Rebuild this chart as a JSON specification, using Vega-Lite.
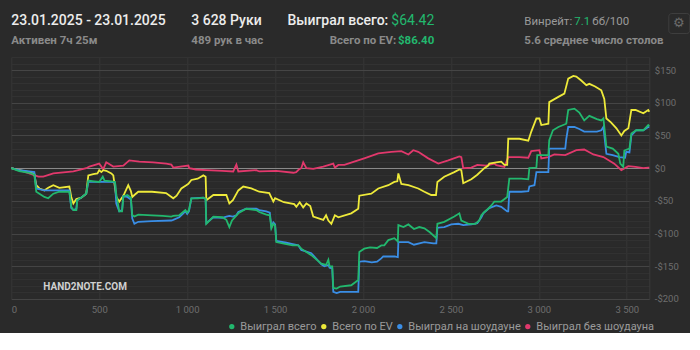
{
  "$schema": "https://vega.github.io/schema/vega-lite/v6.json",
  "background": "#2a2a2a",
  "padding": {"left": 7.3, "top": 12, "right": 0, "bottom": 0},
  "spacing": 0,
  "config": {
    "view": {"stroke": null},
    "font": "Roboto",
    "title": {"anchor": "start", "font": "Roboto", "baseline": "top", "frame": "group", "orient": "bottom", "subtitleFontSize": 1, "subtitlePadding": 0},
    "concat": {"spacing": 0}
  },
  "datasets": {
    "won": [
      {"h":0,"v":0},{"h":45,"v":-4.5},{"h":102,"v":-7},{"h":131,"v":-10},{"h":142,"v":-36},{"h":160,"v":-39},{"h":188,"v":-44},{"h":210,"v":-46},{"h":239,"v":-39},{"h":273,"v":-36},{"h":330,"v":-36},{"h":341,"v":-59},{"h":353,"v":-64},{"h":370,"v":-64},{"h":375,"v":-49},{"h":398,"v":-45},{"h":426,"v":-39},{"h":438,"v":-19},{"h":470,"v":-20},{"h":500,"v":-21},{"h":520,"v":-13},{"h":530,"v":-19},{"h":569,"v":-20},{"h":590,"v":-21},{"h":597,"v":-40},{"h":614,"v":-66},{"h":630,"v":-66},{"h":637,"v":-43},{"h":660,"v":-41},{"h":680,"v":-45},{"h":688,"v":-72},{"h":700,"v":-74},{"h":722,"v":-71},{"h":800,"v":-72},{"h":860,"v":-73},{"h":910,"v":-74},{"h":921,"v":-73},{"h":955,"v":-72},{"h":990,"v":-64},{"h":1000,"v":-68},{"h":1010,"v":-64},{"h":1024,"v":-46},{"h":1060,"v":-46},{"h":1092,"v":-45},{"h":1105,"v":-47},{"h":1109,"v":-85},{"h":1149,"v":-74},{"h":1200,"v":-75},{"h":1223,"v":-79},{"h":1240,"v":-90},{"h":1255,"v":-80},{"h":1291,"v":-69},{"h":1336,"v":-62},{"h":1393,"v":-64},{"h":1410,"v":-67},{"h":1450,"v":-71},{"h":1470,"v":-72},{"h":1479,"v":-92},{"h":1490,"v":-85},{"h":1500,"v":-88},{"h":1507,"v":-113},{"h":1564,"v":-116},{"h":1600,"v":-118},{"h":1632,"v":-118},{"h":1649,"v":-123},{"h":1706,"v":-133},{"h":1763,"v":-146},{"h":1790,"v":-148},{"h":1803,"v":-140},{"h":1810,"v":-150},{"h":1825,"v":-150},{"h":1831,"v":-183},{"h":1850,"v":-184},{"h":1870,"v":-181},{"h":1933,"v":-179},{"h":1973,"v":-171},{"h":1979,"v":-128},{"h":2007,"v":-123},{"h":2040,"v":-121},{"h":2080,"v":-122},{"h":2104,"v":-118},{"h":2121,"v":-118},{"h":2144,"v":-110},{"h":2178,"v":-107},{"h":2198,"v":-112},{"h":2201,"v":-87},{"h":2230,"v":-90},{"h":2258,"v":-86},{"h":2290,"v":-93},{"h":2320,"v":-90},{"h":2349,"v":-92},{"h":2380,"v":-98},{"h":2417,"v":-107},{"h":2423,"v":-85},{"h":2462,"v":-82},{"h":2519,"v":-74},{"h":2548,"v":-69},{"h":2559,"v":-80},{"h":2600,"v":-85},{"h":2640,"v":-85},{"h":2661,"v":-80},{"h":2673,"v":-72},{"h":2690,"v":-67},{"h":2712,"v":-62},{"h":2730,"v":-57},{"h":2747,"v":-51},{"h":2786,"v":-51},{"h":2820,"v":-44},{"h":2832,"v":-16},{"h":2900,"v":-16},{"h":2940,"v":-17},{"h":2946,"v":0},{"h":2986,"v":1},{"h":2991,"v":20},{"h":3054,"v":20},{"h":3059,"v":43},{"h":3080,"v":58},{"h":3111,"v":63},{"h":3156,"v":68},{"h":3167,"v":89},{"h":3202,"v":91},{"h":3230,"v":85},{"h":3258,"v":73},{"h":3287,"v":80},{"h":3330,"v":75},{"h":3355,"v":73},{"h":3367,"v":76},{"h":3384,"v":33},{"h":3420,"v":30},{"h":3452,"v":22},{"h":3463,"v":7},{"h":3480,"v":2},{"h":3486,"v":27},{"h":3515,"v":30},{"h":3526,"v":53},{"h":3554,"v":58},{"h":3594,"v":58},{"h":3622,"v":66},{"h":3628,"v":64.4}
    ],
    "ev": [
      {"h":0,"v":0},{"h":45,"v":-3},{"h":102,"v":-6},{"h":131,"v":-9},{"h":142,"v":-26},{"h":160,"v":-31},{"h":188,"v":-34},{"h":210,"v":-30},{"h":239,"v":-26},{"h":273,"v":-30},{"h":330,"v":-28},{"h":341,"v":-44},{"h":353,"v":-54},{"h":370,"v":-47},{"h":398,"v":-45},{"h":426,"v":-39},{"h":438,"v":-11},{"h":466,"v":-9},{"h":490,"v":-8},{"h":500,"v":-3},{"h":512,"v":-6},{"h":523,"v":-3},{"h":540,"v":-4},{"h":569,"v":-8},{"h":580,"v":-11},{"h":597,"v":-44},{"h":614,"v":-51},{"h":630,"v":-45},{"h":643,"v":-39},{"h":665,"v":-26},{"h":680,"v":-35},{"h":688,"v":-44},{"h":700,"v":-41},{"h":722,"v":-36},{"h":800,"v":-36},{"h":880,"v":-38},{"h":921,"v":-46},{"h":940,"v":-42},{"h":967,"v":-31},{"h":995,"v":-26},{"h":1007,"v":-24},{"h":1024,"v":-18},{"h":1060,"v":-16},{"h":1092,"v":-11},{"h":1105,"v":-13},{"h":1109,"v":-49},{"h":1149,"v":-41},{"h":1223,"v":-41},{"h":1240,"v":-54},{"h":1260,"v":-49},{"h":1291,"v":-34},{"h":1319,"v":-28},{"h":1365,"v":-31},{"h":1410,"v":-36},{"h":1467,"v":-38},{"h":1490,"v":-51},{"h":1500,"v":-46},{"h":1550,"v":-52},{"h":1609,"v":-55},{"h":1621,"v":-59},{"h":1640,"v":-52},{"h":1660,"v":-60},{"h":1678,"v":-54},{"h":1700,"v":-58},{"h":1717,"v":-74},{"h":1774,"v":-79},{"h":1790,"v":-72},{"h":1803,"v":-80},{"h":1820,"v":-85},{"h":1840,"v":-72},{"h":1860,"v":-75},{"h":1933,"v":-69},{"h":1973,"v":-62},{"h":1979,"v":-42},{"h":2047,"v":-39},{"h":2087,"v":-31},{"h":2144,"v":-26},{"h":2178,"v":-21},{"h":2195,"v":-20},{"h":2201,"v":-8},{"h":2218,"v":-24},{"h":2258,"v":-26},{"h":2314,"v":-31},{"h":2349,"v":-36},{"h":2388,"v":-41},{"h":2415,"v":-41},{"h":2423,"v":-21},{"h":2462,"v":-13},{"h":2519,"v":-6},{"h":2548,"v":-2},{"h":2559,"v":-3},{"h":2570,"v":-23},{"h":2616,"v":-17},{"h":2650,"v":-10},{"h":2690,"v":0},{"h":2712,"v":4},{"h":2718,"v":7},{"h":2758,"v":9},{"h":2786,"v":10},{"h":2804,"v":5},{"h":2820,"v":5},{"h":2826,"v":45},{"h":2889,"v":45},{"h":2940,"v":42},{"h":2957,"v":56},{"h":2986,"v":76},{"h":3003,"v":76},{"h":3014,"v":66},{"h":3054,"v":68},{"h":3059,"v":101},{"h":3111,"v":109},{"h":3145,"v":114},{"h":3167,"v":137},{"h":3196,"v":141},{"h":3213,"v":140},{"h":3241,"v":134},{"h":3270,"v":127},{"h":3287,"v":129},{"h":3320,"v":125},{"h":3355,"v":119},{"h":3372,"v":106},{"h":3384,"v":76},{"h":3410,"v":70},{"h":3441,"v":61},{"h":3469,"v":50},{"h":3486,"v":57},{"h":3509,"v":61},{"h":3526,"v":89},{"h":3550,"v":89},{"h":3594,"v":84},{"h":3622,"v":89},{"h":3628,"v":86.4}
    ],
    "sd": [
      {"h":0,"v":0},{"h":45,"v":-3},{"h":102,"v":-5},{"h":131,"v":-6},{"h":142,"v":-31},{"h":188,"v":-34},{"h":273,"v":-34},{"h":330,"v":-34},{"h":341,"v":-61},{"h":353,"v":-64},{"h":370,"v":-62},{"h":375,"v":-49},{"h":398,"v":-45},{"h":426,"v":-39},{"h":438,"v":-21},{"h":500,"v":-21},{"h":569,"v":-21},{"h":590,"v":-22},{"h":597,"v":-54},{"h":614,"v":-66},{"h":630,"v":-64},{"h":637,"v":-43},{"h":660,"v":-44},{"h":680,"v":-48},{"h":688,"v":-77},{"h":700,"v":-85},{"h":722,"v":-82},{"h":800,"v":-81},{"h":910,"v":-80},{"h":921,"v":-79},{"h":955,"v":-75},{"h":990,"v":-66},{"h":1000,"v":-70},{"h":1010,"v":-66},{"h":1024,"v":-46},{"h":1092,"v":-45},{"h":1105,"v":-47},{"h":1109,"v":-84},{"h":1149,"v":-75},{"h":1200,"v":-76},{"h":1223,"v":-74},{"h":1240,"v":-73},{"h":1260,"v":-74},{"h":1280,"v":-72},{"h":1291,"v":-67},{"h":1336,"v":-62},{"h":1393,"v":-62},{"h":1410,"v":-64},{"h":1450,"v":-66},{"h":1470,"v":-68},{"h":1479,"v":-90},{"h":1490,"v":-83},{"h":1500,"v":-86},{"h":1507,"v":-111},{"h":1564,"v":-114},{"h":1600,"v":-116},{"h":1632,"v":-118},{"h":1649,"v":-125},{"h":1706,"v":-130},{"h":1740,"v":-140},{"h":1763,"v":-147},{"h":1780,"v":-150},{"h":1803,"v":-148},{"h":1810,"v":-152},{"h":1825,"v":-153},{"h":1831,"v":-189},{"h":1850,"v":-191},{"h":1870,"v":-189},{"h":1933,"v":-189},{"h":1973,"v":-189},{"h":1979,"v":-143},{"h":2007,"v":-142},{"h":2050,"v":-144},{"h":2080,"v":-143},{"h":2104,"v":-138},{"h":2115,"v":-135},{"h":2180,"v":-135},{"h":2198,"v":-136},{"h":2201,"v":-113},{"h":2258,"v":-113},{"h":2290,"v":-117},{"h":2349,"v":-113},{"h":2400,"v":-115},{"h":2417,"v":-115},{"h":2423,"v":-91},{"h":2462,"v":-90},{"h":2502,"v":-86},{"h":2542,"v":-85},{"h":2570,"v":-87},{"h":2616,"v":-86},{"h":2650,"v":-84},{"h":2673,"v":-75},{"h":2684,"v":-69},{"h":2718,"v":-61},{"h":2758,"v":-57},{"h":2786,"v":-59},{"h":2820,"v":-66},{"h":2826,"v":-66},{"h":2832,"v":-36},{"h":2900,"v":-36},{"h":2940,"v":-35},{"h":2946,"v":-28},{"h":2975,"v":-26},{"h":2986,"v":-6},{"h":3054,"v":-6},{"h":3059,"v":30},{"h":3150,"v":30},{"h":3156,"v":45},{"h":3167,"v":63},{"h":3202,"v":63},{"h":3230,"v":60},{"h":3258,"v":56},{"h":3330,"v":56},{"h":3355,"v":58},{"h":3367,"v":63},{"h":3384,"v":22},{"h":3420,"v":20},{"h":3458,"v":17},{"h":3490,"v":16},{"h":3497,"v":25},{"h":3515,"v":24},{"h":3526,"v":50},{"h":3554,"v":58},{"h":3594,"v":58},{"h":3622,"v":63},{"h":3628,"v":63}
    ],
    "nsd": [
      {"h":0,"v":0},{"h":45,"v":-3},{"h":102,"v":-8},{"h":154,"v":-13},{"h":182,"v":-13},{"h":239,"v":-8},{"h":353,"v":-5},{"h":426,"v":0},{"h":444,"v":2.5},{"h":500,"v":7},{"h":523,"v":-1.5},{"h":540,"v":9},{"h":580,"v":2.5},{"h":637,"v":4},{"h":671,"v":12},{"h":728,"v":10},{"h":807,"v":9},{"h":881,"v":7},{"h":910,"v":5.6},{"h":921,"v":1},{"h":1007,"v":4},{"h":1012,"v":0},{"h":1050,"v":-2},{"h":1109,"v":-3},{"h":1200,"v":-4},{"h":1262,"v":-5},{"h":1280,"v":5.6},{"h":1291,"v":-5},{"h":1393,"v":-3},{"h":1410,"v":-5},{"h":1507,"v":-4},{"h":1604,"v":-7},{"h":1620,"v":-6},{"h":1635,"v":-2},{"h":1649,"v":0},{"h":1660,"v":9},{"h":1678,"v":0},{"h":1717,"v":-1},{"h":1774,"v":2.5},{"h":1831,"v":7},{"h":1840,"v":1},{"h":1860,"v":5},{"h":1894,"v":5},{"h":1950,"v":10},{"h":2007,"v":15},{"h":2087,"v":22.5},{"h":2161,"v":25},{"h":2218,"v":26},{"h":2258,"v":21},{"h":2286,"v":27.5},{"h":2314,"v":25},{"h":2371,"v":15},{"h":2428,"v":7},{"h":2485,"v":12},{"h":2548,"v":18},{"h":2559,"v":17},{"h":2570,"v":0},{"h":2616,"v":1},{"h":2650,"v":5},{"h":2700,"v":4},{"h":2747,"v":7},{"h":2758,"v":4.6},{"h":2804,"v":2},{"h":2826,"v":17},{"h":2889,"v":17},{"h":2940,"v":16},{"h":2957,"v":26},{"h":3003,"v":27.5},{"h":3014,"v":15},{"h":3054,"v":17},{"h":3088,"v":21},{"h":3150,"v":20},{"h":3213,"v":27.5},{"h":3258,"v":28.6},{"h":3310,"v":21},{"h":3367,"v":17},{"h":3429,"v":7},{"h":3469,"v":-3},{"h":3509,"v":3},{"h":3550,"v":2},{"h":3594,"v":0},{"h":3622,"v":1},{"h":3628,"v":1}
    ],
    "logo": [{"t": "HAND2NOTE.COM"}],
    "gear": [{"g": "⚙"}]
  },
  "vconcat": [
    {
      "spacing": 0,
      "bounds": "flush",
      "hconcat": [
        {"width": 180, "height": 20, "data": {"values": []}, "mark": "point", "title": {"text": "23.01.2025 - 23.01.2025", "offset": -19, "fontSize": 14, "fontWeight": 500, "color": "#ececec"}},
        {"width": 96, "height": 20, "data": {"values": []}, "mark": "point", "title": {"text": "3 628 Руки", "offset": -19, "fontSize": 14, "fontWeight": 500, "color": "#ececec"}},
        {"width": 101, "height": 20, "data": {"values": []}, "mark": "point", "title": {"text": "Выиграл всего:", "offset": -19, "anchor": "end", "fontSize": 14, "fontWeight": 500, "color": "#ececec"}},
        {"width": 46, "height": 20, "data": {"values": []}, "mark": "point", "title": {"text": "$64.42", "offset": -19, "anchor": "end", "fontSize": 14, "fontWeight": 400, "color": "#22b86e"}},
        {"width": 90, "height": 20, "data": {"values": []}, "mark": "point"},
        {"width": 50, "height": 20, "data": {"values": []}, "mark": "point", "title": {"text": "Винрейт:", "offset": -17.5, "fontSize": 11.5, "fontWeight": 400, "color": "#9a9a9a"}},
        {"width": 18, "height": 20, "data": {"values": []}, "mark": "point", "title": {"text": "7.1", "offset": -17.5, "fontSize": 11.5, "fontWeight": 400, "color": "#22b86e"}},
        {"width": 76, "height": 20, "data": {"values": []}, "mark": "point", "title": {"text": "бб/100", "offset": -17.5, "fontSize": 11.5, "fontWeight": 400, "color": "#9a9a9a"}},
        {"width": 21, "height": 20, "data": {"name": "gear"}, "view": {"stroke": "#3e3e3e", "cornerRadius": 3}, "mark": {"type": "text", "fontSize": 13, "color": "#6a6a6a", "baseline": "middle", "align": "center"}, "encoding": {"text": {"field": "g"}}}
      ]
    },
    {
      "spacing": 0,
      "bounds": "flush",
      "hconcat": [
        {"width": 180, "height": 16.5, "data": {"values": []}, "mark": "point", "title": {"text": "Активен 7ч 25м", "offset": -17, "fontSize": 11.5, "color": "#8a8a8a"}},
        {"width": 96, "height": 16.5, "data": {"values": []}, "mark": "point", "title": {"text": "489 рук в час", "offset": -17, "fontSize": 11.5, "color": "#8a8a8a"}},
        {"width": 109, "height": 16.5, "data": {"values": []}, "mark": "point", "title": {"text": "Всего по EV:", "offset": -17, "anchor": "end", "fontSize": 11.5, "color": "#8a8a8a"}},
        {"width": 38, "height": 16.5, "data": {"values": []}, "mark": "point", "title": {"text": "$86.40", "offset": -17, "anchor": "end", "fontSize": 11.5, "color": "#22b86e"}},
        {"width": 90, "height": 16.5, "data": {"values": []}, "mark": "point"},
        {"width": 130, "height": 16.5, "data": {"values": []}, "mark": "point", "title": {"text": "5.6 среднее число столов", "offset": -17, "fontSize": 11.5, "color": "#8a8a8a"}}
      ]
    },
    {
      "width": 638,
      "height": 242,
      "resolve": {"axis": {"x": "independent", "y": "independent"}},
      "layer": [
        {
          "encoding": {
            "x": {"field": "h", "type": "quantitative", "scale": {"domain": [0, 3628], "nice": false, "zero": false},
                  "axis": {"title": null, "values": [0,500,1000,1500,2000,2500,3000,3500], "labelExpr": "replace(format(datum.value, ','), ',', ' ')", "grid": true, "gridColor": "#373737", "ticks": false, "domain": false, "labelColor": "#6e6e6e", "labelFontSize": 9.5, "labelFont": "Roboto", "labelPadding": 6}},
            "y": {"field": "v", "type": "quantitative", "scale": {"domain": [-200, 170], "nice": false, "zero": false},
                  "axis": {"orient": "right", "title": null, "values": [-200,-190,-180,-170,-160,-150,-140,-130,-120,-110,-100,-90,-80,-70,-60,-50,-40,-30,-20,-10,0,10,20,30,40,50,60,70,80,90,100,110,120,130,140,150,160,170],
                           "labelExpr": "datum.value % 50 !== 0 ? '' : (datum.value < 0 ? '-$' + abs(datum.value) : '$' + datum.value)",
                           "labelOverlap": false, "labelBound": false, "labelFlush": false,
                           "gridColor": {"condition": [{"test": "datum.value === 0", "value": "#8c8c8c"}, {"test": "datum.value % 50 === 0", "value": "#454545"}], "value": "#323232"},
                           "ticks": false, "domain": true, "domainColor": "#3a3a3a", "labelColor": "#6e6e6e", "labelFontSize": 9.5, "labelFont": "Roboto", "labelPadding": 5}}
          },
          "layer": [
            {"data": {"name": "nsd"}, "mark": {"type": "line", "strokeWidth": 1.8}, "encoding": {"color": {"datum": "Выиграл без шоудауна"}}},
            {"data": {"name": "ev"}, "mark": {"type": "line", "strokeWidth": 1.8}, "encoding": {"color": {"datum": "Всего по EV"}}},
            {"data": {"name": "sd"}, "mark": {"type": "line", "strokeWidth": 1.8}, "encoding": {"color": {"datum": "Выиграл на шоудауне"}}},
            {"data": {"name": "won"}, "mark": {"type": "line", "strokeWidth": 1.8},
             "encoding": {"color": {"datum": "Выиграл всего", "type": "nominal",
               "scale": {"domain": ["Выиграл всего", "Всего по EV", "Выиграл на шоудауне", "Выиграл без шоудауна"], "range": ["#22b86e", "#eeea3a", "#3a8ee6", "#e2386c"]},
               "legend": {"title": null, "orient": "none", "legendX": 215, "legendY": 308, "direction": "horizontal", "columns": 4, "symbolType": "circle", "symbolSize": 8, "symbolStrokeWidth": 2.5, "labelColor": "#9a9a9a", "labelFontSize": 11, "labelFont": "Roboto", "columnPadding": 0, "labelOffset": 3}}}}
          ]
        },
        {"data": {"name": "logo"}, "mark": {"type": "text", "align": "left", "baseline": "middle", "fontSize": 10, "fontWeight": "bold", "color": "#d0d0d0"},
         "encoding": {"x": {"datum": 182, "type": "quantitative", "axis": null}, "y": {"datum": -181, "type": "quantitative", "axis": null}, "text": {"field": "t", "type": "nominal"}}}
      ]
    }
  ]
}
